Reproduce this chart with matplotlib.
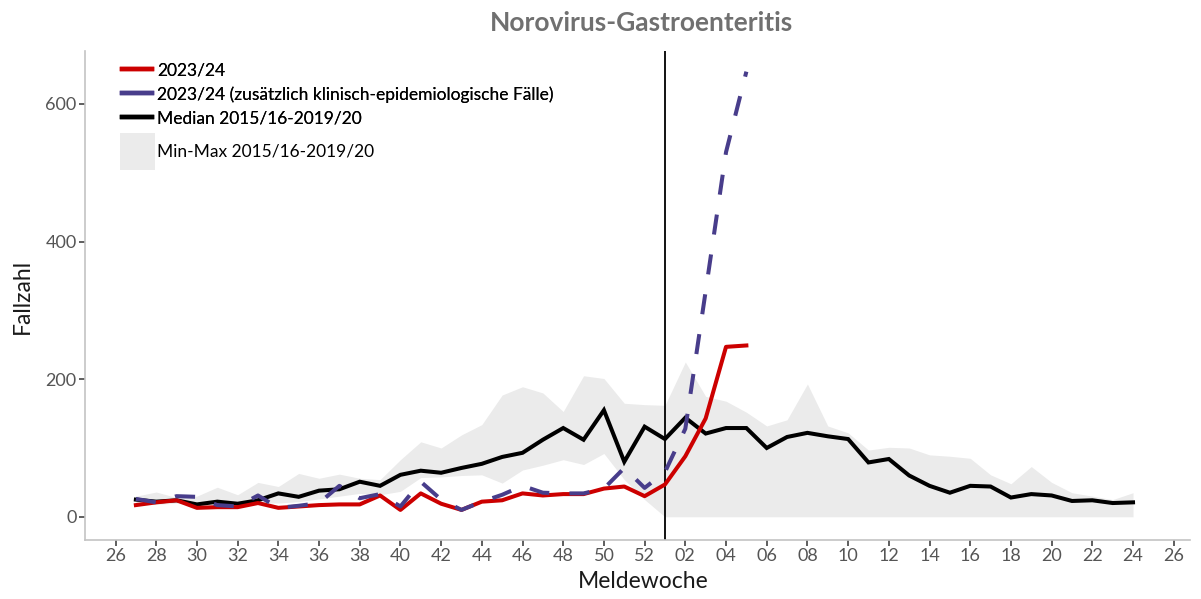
import matplotlib
matplotlib.use("Agg")
import matplotlib.pyplot as plt
from matplotlib.lines import Line2D
from matplotlib.patches import Patch

plt.rcParams['font.family'] = ['Lato', 'DejaVu Sans']

# Week categories (season 2023/24: KW26 2023 ... KW26 2024)
weeks = ['26', '27', '28', '29', '30', '31', '32', '33', '34', '35', '36', '37', '38',
         '39', '40', '41', '42', '43', '44', '45', '46', '47', '48', '49', '50', '51',
         '52', '01', '02', '03', '04', '05', '06', '07', '08', '09', '10', '11', '12',
         '13', '14', '15', '16', '17', '18', '19', '20', '21', '22', '23', '24', '25', '26']
tick_labels = ['26', '28', '30', '32', '34', '36', '38', '40', '42', '44', '46', '48', '50',
               '52', '02', '04', '06', '08', '10', '12', '14', '16', '18', '20', '22', '24', '26']

# 2023/24 (weeks 27 .. 05)
cases_2324 = [17, 21, 24, 13, 14, 14, 20, 13, 15, 17, 18, 18, 31, 10, 34, 19, 10, 22, 24,
              34, 31, 33, 33, 41, 44, 30, 47, 88, 143, 247, 249]
# 2023/24 incl. clinical-epidemiological cases (weeks 27 .. 05)
cases_2324_ke = [26, 21, 30, 29, 17, 15, 31, 13, 16, 20, 45, 27, 33, 15, 51, 25, 10, 22, 32,
                 45, 35, 34, 34, 41, 71, 42, 65, 128, 328, 530, 647]
# Median / min / max 2015/16-2019/20 (weeks 27 .. 24)
median_ref = [25, 22, 24, 18, 22, 19, 24, 34, 29, 38, 40, 51, 45, 61, 67, 64, 71, 77, 87,
              93, 112, 129, 112, 155, 80, 131, 113, 144, 121, 129, 129, 100, 116, 122, 117,
              113, 79, 84, 60, 45, 35, 45, 44, 28, 33, 31, 23, 24, 20, 21]
max_ref = [30, 36, 28, 30, 43, 32, 50, 44, 63, 56, 62, 56, 54, 83, 109, 100, 119, 134, 177,
           189, 180, 153, 205, 201, 165, 163, 162, 225, 175, 168, 152, 132, 141, 193, 132,
           122, 97, 101, 100, 90, 88, 85, 61, 48, 73, 50, 35, 30, 25, 35]
min_ref = [18, 18, 20, 15, 17, 14, 20, 20, 22, 26, 30, 34, 32, 37, 57, 58, 60, 61, 49,
           68, 75, 83, 76, 92, 54, 25, 0, 0, 0, 0, 0, 0, 0, 0, 0, 0, 0, 0, 0, 0, 0, 0, 0,
           0, 0, 0, 0, 0, 0, 0]

pos = {w: i for i, w in enumerate(weeks)}  # unique except trailing '26'
x_cur = list(range(pos['27'], pos['27'] + len(cases_2324)))
x_ref = list(range(pos['27'], pos['27'] + len(median_ref)))
x_ticks = list(range(0, len(weeks), 2))
x_yearstart = pos['01']

fig = plt.figure(figsize=(12.01, 5.99), dpi=100)
ax = fig.add_axes([85 / 1201, 1 - 539.5 / 599, 1105 / 1201, 488.5 / 599])

ax.fill_between(x_ref, min_ref, max_ref, color='#ebebeb', lw=0, zorder=1)
ax.axvline(x_yearstart, color='black', lw=1.3, zorder=2)
ax.plot(x_ref, median_ref, color='black', lw=2.9, solid_joinstyle='miter', zorder=3)
ax.plot(x_cur, cases_2324, color='#cc0000', lw=2.9, zorder=4)
ax.plot(x_cur, cases_2324_ke, color='#483d8b', lw=2.9, dashes=(5, 5), zorder=5)

ax.set_xlim(-1.5, 52.8)
ax.set_ylim(-33, 677)
ax.set_xticks(x_ticks)
ax.set_xticklabels(tick_labels)
ax.set_yticks([0, 200, 400, 600])

for s in ['top', 'right']:
    ax.spines[s].set_visible(False)
for s in ['left', 'bottom']:
    ax.spines[s].set_color('#c4c4c4')
    ax.spines[s].set_linewidth(1.2)
ax.tick_params(axis='both', colors='#333333', labelcolor='#555555', labelsize=13,
               length=4, width=1.1, pad=2)

ax.set_xlabel('Meldewoche', fontsize=16.5, color='#1a1a1a')
ax.set_ylabel('Fallzahl', fontsize=16.5, color='#1a1a1a')
ax.xaxis.set_label_coords((643 - 85) / 1105, (539.5 - 581) / 488.5)
ax.xaxis.label.set_va('center')
ax.yaxis.set_label_coords((22 - 85) / 1105, (539.5 - 296) / 488.5)
ax.yaxis.label.set_va('center')

fig.text(642 / 1201, 1 - 23 / 599, 'Norovirus-Gastroenteritis', ha='center', va='center',
         fontsize=19, fontweight='bold', color='#707070')

handles1 = [Line2D([], [], color='#cc0000', lw=3.2),
            Line2D([], [], color='#483d8b', lw=3.2),
            Line2D([], [], color='black', lw=3.2)]
labels1 = ['2023/24', '2023/24 (zusätzlich klinisch-epidemiologische Fälle)',
           'Median 2015/16-2019/20']
leg1 = fig.legend(handles1, labels1, loc='upper left', bbox_to_anchor=(122 / 1201, 1 - 62 / 599),
                  frameon=False, fontsize=12.5, handlelength=1.75, handletextpad=0.25,
                  labelspacing=0.46, borderpad=0, borderaxespad=0)
leg2 = fig.legend([Patch(facecolor='#ebebeb', edgecolor='none')], ['Min-Max 2015/16-2019/20'],
                  loc='upper left', bbox_to_anchor=(120 / 1201, 1 - 133 / 599),
                  frameon=False, fontsize=12.5, handlelength=2.0, handleheight=2.9,
                  handletextpad=0.15, borderpad=0, borderaxespad=0)
fig.add_artist(leg1)

fig.savefig('out.png', dpi=100)
